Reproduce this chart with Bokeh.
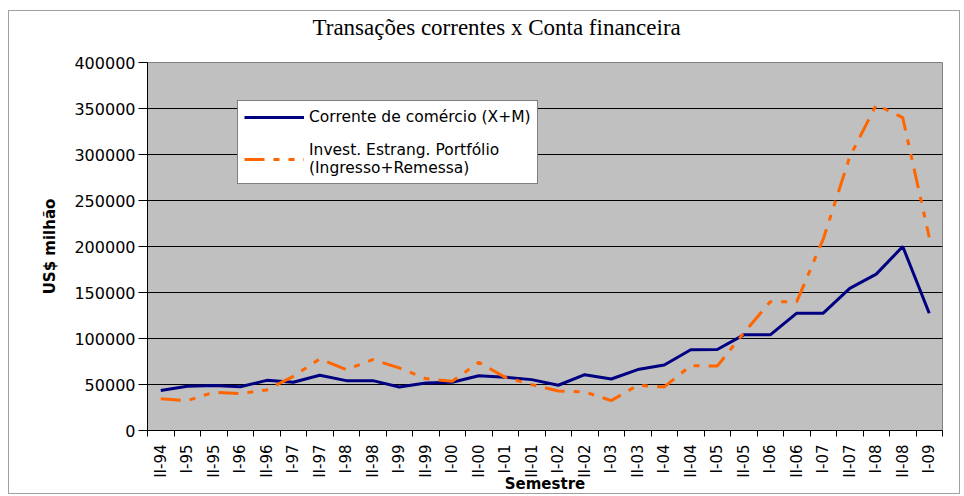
import math
from bokeh.plotting import figure
from bokeh.models import (FixedTicker, NumeralTickFormatter, Legend, LegendItem,
                          Range1d)
from bokeh.embed import file_html
from bokeh.resources import INLINE

# ---- data -------------------------------------------------------------
semestres = ["II-94", "I-95", "II-95", "I-96", "II-96", "I-97", "II-97", "I-98",
             "II-98", "I-99", "II-99", "I-00", "II-00", "I-01", "II-01", "I-02",
             "II-02", "I-03", "II-03", "I-04", "II-04", "I-05", "II-05", "I-06",
             "II-06", "I-07", "II-07", "I-08", "II-08", "I-09"]

corrente_comercio = [43500, 48000, 49000, 47500, 54500, 52500, 60000, 54200,
                     54200, 47300, 51700, 52400, 59500, 58000, 55300, 49200,
                     60700, 56000, 66200, 71200, 87800, 88000, 104000, 104000,
                     127500, 127500, 154500, 170000, 200000, 127500]

invest_portfolio = [34400, 32500, 41500, 40100, 44100, 58900, 77700, 66200,
                    77000, 68000, 56400, 53500, 74100, 57800, 49900, 43000,
                    42000, 32500, 49200, 47400, 70500, 70000, 106000, 140000,
                    140000, 208000, 297500, 354000, 340000, 210000]

y_ticks = [0, 50000, 100000, 150000, 200000, 250000, 300000, 350000, 400000]

serie_labels = ["Corrente de comércio (X+M)",
                "Invest. Estrang. Portfólio\n(Ingresso+Remessa)"]
titulo = "Transações correntes x Conta financeira"

# ---- figure -----------------------------------------------------------
n = len(semestres)
x_pos = list(range(n))
x_bounds = [i - 0.5 for i in range(n + 1)]

p = figure(width=952, height=484, output_backend="svg", toolbar_location=None,
           x_range=Range1d(-0.5, n - 0.5), y_range=Range1d(0, max(y_ticks)),
           min_border_left=138, min_border_right=19,
           min_border_top=51, min_border_bottom=64)

p.styles = {"border": "1px solid #A0A0A0", "margin-left": "8px",
            "margin-top": "10px"}
p.background_fill_color = "#C0C0C0"
p.border_fill_color = "white"
p.outline_line_color = "#808080"
p.outline_line_width = 1

# trailing empty line keeps the title near the top of the chart area
p.title.text = titulo + "\n"
p.title.text_font = "Liberation Serif"
p.title.text_font_size = "23px"
p.title.text_font_style = "normal"
p.title.text_color = "black"
p.title.text_line_height = 0.85
p.title.align = "left"
p.title.offset = 165
p.title.vertical_align = "top"
p.title.standoff = 0

# y axis
ya = p.yaxis[0]
ya.ticker = FixedTicker(ticks=y_ticks)
ya.formatter = NumeralTickFormatter(format="0")
ya.major_tick_out = 9
ya.major_tick_in = 0
ya.minor_tick_out = 0
ya.minor_tick_in = 0
ya.major_label_standoff = 3
ya.major_label_text_font = "DejaVu Sans"
ya.major_label_text_font_size = "16px"
ya.major_label_text_color = "black"
ya.axis_line_color = "black"
ya.major_tick_line_color = "black"
ya.axis_label = "US$ milhão"
ya.axis_label_text_font = "DejaVu Sans"
ya.axis_label_text_font_size = "15px"
ya.axis_label_text_font_style = "bold"
ya.axis_label_text_color = "black"
ya.axis_label_standoff = 12

# x axis
xa = p.xaxis[0]
xa.ticker = FixedTicker(ticks=x_pos, minor_ticks=x_bounds)
xa.major_label_overrides = {i: s for i, s in zip(x_pos, semestres)}
xa.major_tick_out = 0
xa.major_tick_in = 0
xa.minor_tick_out = 6
xa.minor_tick_in = 0
xa.minor_tick_line_color = "black"
xa.major_label_standoff = 8
xa.major_label_orientation = math.pi / 2
xa.major_label_text_font = "DejaVu Sans"
xa.major_label_text_font_size = "15px"
xa.major_label_text_color = "black"
xa.axis_line_color = "black"
xa.axis_label = "Semestre"
xa.axis_label_text_font = "DejaVu Sans"
xa.axis_label_text_font_size = "15px"
xa.axis_label_text_font_style = "bold"
xa.axis_label_text_color = "black"
xa.axis_label_standoff = -6

p.xgrid.visible = False
p.ygrid.grid_line_color = "black"
p.ygrid.grid_line_width = 1

# ---- series -----------------------------------------------------------
r_blue = p.line(x_pos, corrente_comercio, line_color="#000080", line_width=3)
r_orange = p.line(x_pos, invest_portfolio, line_color="#FF6600", line_width=3,
                  line_dash="20 9 6 9 6 9")

legend = Legend(items=[LegendItem(label=serie_labels[0], renderers=[r_blue]),
                       LegendItem(label=serie_labels[1], renderers=[r_orange])],
                location=(90, 246))
legend.glyph_width = 60
legend.glyph_height = 20
legend.label_standoff = 5
legend.label_height = 20
legend.spacing = 14
legend.padding = 6
legend.margin = 0
legend.label_text_font = "DejaVu Sans"
legend.label_text_font_size = "15.5px"
legend.label_text_color = "black"
legend.border_line_color = "black"
legend.border_line_width = 1
legend.background_fill_color = "white"
legend.background_fill_alpha = 1
p.add_layout(legend)

open("out.html", "w").write(file_html(p, INLINE))
